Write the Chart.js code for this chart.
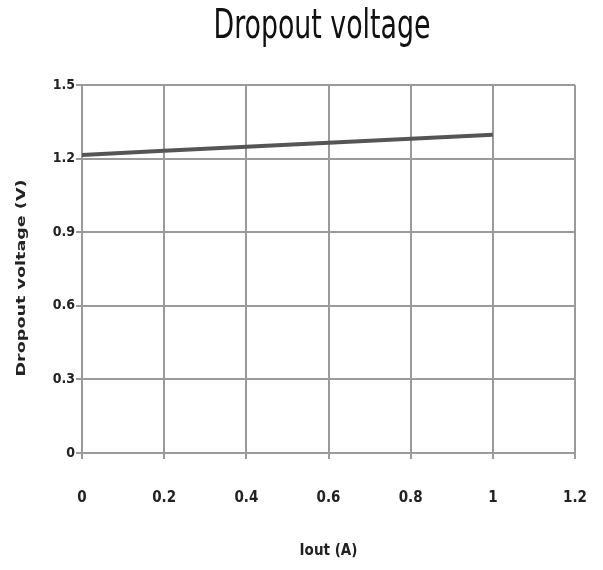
<!DOCTYPE html>
<html>
<head>
<meta charset="utf-8">
<script src="https://cdn.jsdelivr.net/npm/chart.js@4/dist/chart.umd.min.js"></script>
<style>
  html, body { margin: 0; padding: 0; background: #fff; }
  #wrap { width: 603px; height: 570px; }
</style>
</head>
<body>
<div id="wrap"><canvas id="chart"></canvas></div>
<script>
const currentA = [0, 0.2, 0.4, 0.6, 0.8, 1]
const dropoutV = [1.215, 1.232, 1.248, 1.265, 1.281, 1.297]
const xTicks = [0, 0.2, 0.4, 0.6, 0.8, 1, 1.2]
const yTicks = [0, 0.3, 0.6, 0.9, 1.2, 1.5]

const font = "'DejaVu Sans Condensed', 'Liberation Sans', sans-serif"
const gridColor = '#9a9a9a'

// draws a text squeezed/stretched to a given width (the original uses a narrow face)
const fitText = (c, text, x, y, width, angle) => {
  c.save()
  c.translate(x, y)
  c.rotate(angle)
  const w = c.measureText(text).width
  c.scale(width / w, 1)
  c.fillText(text, 0, 0)
  c.restore()
}

const titlesPlugin = {
  id: 'titles',
  afterDraw: (chart) => {
    const c = chart.ctx
    c.save()
    c.fillStyle = '#111'
    c.textAlign = 'center'
    c.textBaseline = 'alphabetic'
    c.font = `normal 40px ${font}`
    fitText(c, 'Dropout voltage', 322, 38, 217, 0)
    c.fillStyle = '#222'
    c.textBaseline = 'middle'
    c.font = `bold 13px ${font}`
    fitText(c, 'Dropout voltage (V)', 22, 278, 197, -Math.PI / 2)
    c.restore()
  }
}

const ctx = document.getElementById('chart')
new Chart(ctx, {
  type: 'line',
  data: {
    datasets: [
      {
        label: 'Dropout voltage',
        data: currentA.map((x, i) => ({ x, y: dropoutV[i] })),
        borderColor: '#555555',
        borderWidth: 4,
        pointRadius: 0,
        tension: 0
      }
    ]
  },
  options: {
    responsive: true,
    maintainAspectRatio: false,
    animation: false,
    layout: { padding: { left: 0, right: 28, top: 85, bottom: 0 } },
    plugins: {
      legend: { display: false },
      tooltip: { enabled: false },
      title: { display: false }
    },
    scales: {
      x: {
        type: 'linear',
        min: 0,
        max: 1.2,
        afterBuildTicks: (scale) => { scale.ticks = xTicks.map((v) => ({ value: v })) },
        afterFit: (scale) => {
          scale.height = 117
          scale.paddingLeft = 0
          scale.paddingRight = 0
        },
        grid: { color: gridColor, lineWidth: 2, tickLength: 6, tickColor: gridColor },
        border: { color: gridColor, width: 2 },
        ticks: {
          color: '#222',
          padding: 30,
          font: { family: font, size: 15, weight: 'bold' },
          maxRotation: 0,
          callback: (v) => String(Math.round(v * 10) / 10)
        },
        title: {
          display: true,
          text: 'Iout (A)',
          color: '#222',
          font: { family: font, size: 15, weight: 'bold' },
          padding: { top: 7, bottom: 10 }
        }
      },
      y: {
        min: 0,
        max: 1.5,
        afterBuildTicks: (scale) => { scale.ticks = yTicks.map((v) => ({ value: v })) },
        afterFit: (scale) => { scale.width = 82 },
        grid: { color: gridColor, lineWidth: 2, tickLength: 6, tickColor: gridColor },
        border: { color: gridColor, width: 2 },
        ticks: {
          color: '#222',
          padding: 1,
          font: { family: font, size: 14, weight: 'bold' },
          callback: (v) => String(Math.round(v * 10) / 10)
        }
      }
    }
  },
  plugins: [titlesPlugin]
})
</script>
</body>
</html>
